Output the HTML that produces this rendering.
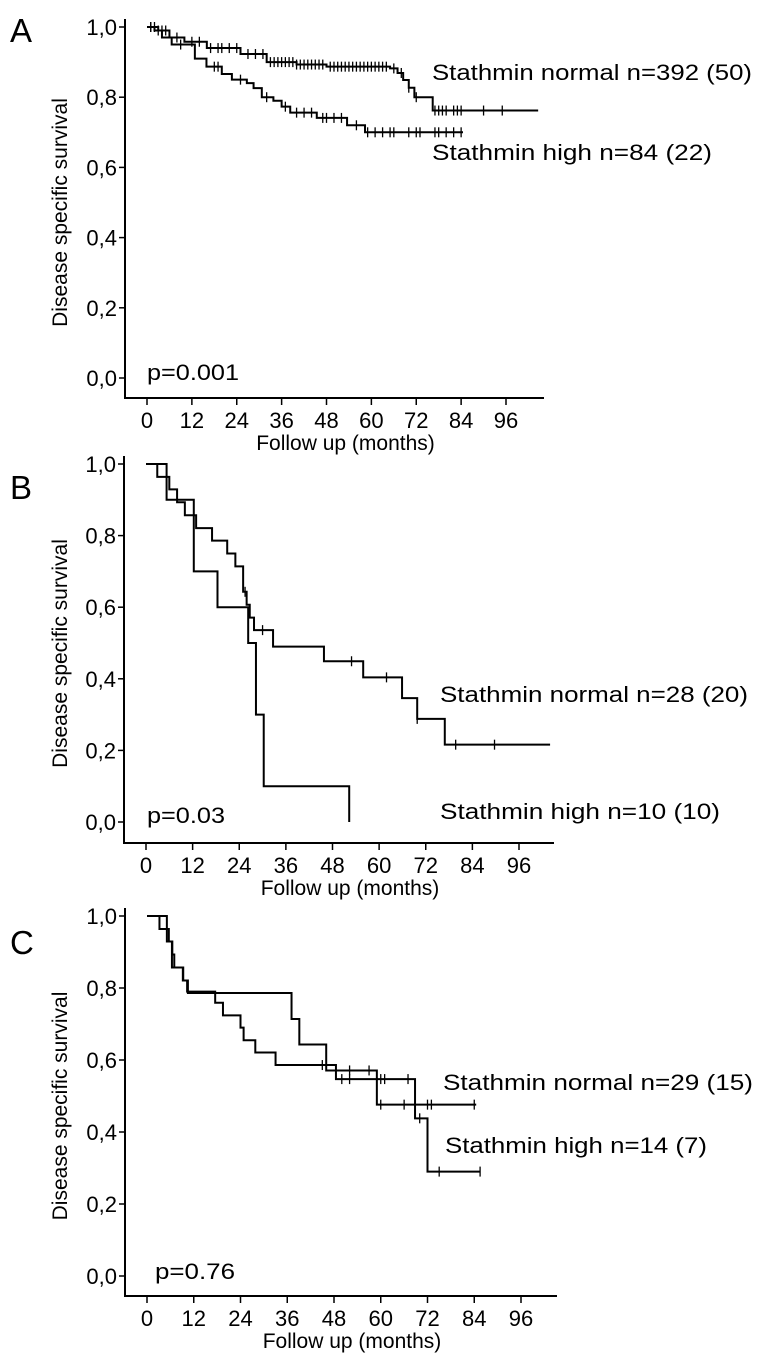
<!DOCTYPE html>
<html><head><meta charset="utf-8"><style>
html,body{margin:0;padding:0;background:#fff;}
svg{display:block;font-family:"Liberation Sans",Arial,sans-serif;}
</style></head><body>
<svg id="fig" width="761" height="1368" viewBox="0 0 761 1368" xmlns="http://www.w3.org/2000/svg"></svg>
<script>
// ---- Data ----
const xTicks = [0,12,24,36,48,60,72,84,96];
const yTicks = ["0,0","0,2","0,4","0,6","0,8","1,0"];
const yTickVals = [0,0.2,0.4,0.6,0.8,1.0];

// Panel A
const aNormalT = [0,3,6,10,16,25,32,40,48,65,67,68.5,70,71.5,76.4];
const aNormalS = [1,0.99,0.97,0.958,0.94,0.923,0.90,0.893,0.887,0.882,0.869,0.849,0.827,0.80,0.762];
const aNormalEnd = 104.6;
const aNormalCens = [1,2,4,5,8,12,14,17,19,20,22,24,27,29,31,33,34,35,36,37,38,39,40,41,42,43,44,45,46,47,49,50,51,52,53,54,55,56,57,58,59,60,61,62,63,64,66,68,70,72,77,78,79,80,82,83,84,90,95];
const aHighT = [0,2,4,6.6,12.8,15.9,20,22.7,26.7,28.5,30.7,33.8,36,38.3,45.4,53.5,58.3];
const aHighS = [1,0.99,0.97,0.95,0.91,0.887,0.866,0.85,0.84,0.826,0.80,0.79,0.773,0.756,0.741,0.72,0.70];
const aHighEnd = 84.5;
const aHighCens = [1,3,9,18,19,25,32,37,40,42,44,47,48,50,52,56,59,61,63,65,66,70,72,73,77,78,80,82,84];

// Panel B
const bNormalT = [0,2.9,6,8,10,12.9,17,20.9,23,25,25.9,26.7,27.8,32.7,45.8,55.9,65.9,69.8,76.9];
const bNormalS = [1,0.964,0.929,0.893,0.857,0.821,0.786,0.75,0.714,0.643,0.607,0.571,0.536,0.49,0.449,0.404,0.346,0.288,0.216];
const bNormalEnd = 104;
const bNormalCens = [25.5,30,52.9,61.9,69.8,79.7,89.7];
const bHighT = [0,5.3,12.3,18.4,26.3,28.3,30.3];
const bHighS = [1,0.9,0.7,0.6,0.5,0.3,0.1];
const bHighEnd = 52.3;
const bHighDropToZero = true;
const bHighCens = [];

// Panel C
const cHighT = [0,5.1,6.4,9.2,10.5,37.1,39.1,46,59];
const cHighS = [1,0.929,0.857,0.821,0.786,0.714,0.643,0.571,0.476];
const cHighEnd = 84.5;
const cHighCens = [52,57,60,66,72,73,84];
const cNormalT = [0,3.2,5.6,6.5,7,9.3,10.3,17.5,19.5,24,24.8,27.8,33,48.5,68.8,72];
const cNormalS = [1,0.964,0.929,0.893,0.857,0.821,0.79,0.759,0.724,0.69,0.655,0.621,0.586,0.547,0.438,0.29];
const cNormalEnd = 85.5;
const cNormalCens = [45,50,52,60,61,67,70,75,85.5];

const NS="http://www.w3.org/2000/svg";
const svg=document.getElementById('fig');
function mk(tag,attrs,parent){const e=document.createElementNS(NS,tag);for(const k in attrs)e.setAttribute(k,attrs[k]);(parent||svg).appendChild(e);return e;}

function panel(p){
  const g=mk('g',{});
  
  
  const X=m=>p.x0+(p.x96-p.x0)*m/96;
  const Y=v=>p.y0+(p.y1-p.y0)*v;
  const L=mk('text',{x:10,y:p.letterY,'font-size':33},g);L.textContent=p.id;
  
  
  const ya=mk('line',{x1:p.axX,y1:Y(1)-8,x2:p.axX,y2:p.axY,stroke:'#000','stroke-width':2},g);
  
  
  const xa=mk('line',{x1:p.axX-1,y1:p.axY,x2:p.axEnd,y2:p.axY,stroke:'#000','stroke-width':2},g);
  
  
  yTickVals.forEach((v,i)=>{
    mk('line',{x1:p.axX-6,y1:Y(v),x2:p.axX,y2:Y(v),stroke:'#000','stroke-width':1.5},g);
    const t=mk('text',{x:p.axX-8,y:Y(v)+8,'font-size':22,'text-anchor':'end'},g);t.textContent=yTicks[i];
    
    
  });
  xTicks.forEach(m=>{
    mk('line',{x1:X(m),y1:p.axY,x2:X(m),y2:p.axY+7,stroke:'#000','stroke-width':1.5},g);
    const t=mk('text',{x:X(m),y:p.axY+30,'font-size':22,'text-anchor':'middle'},g);t.textContent=m;
    
    
  });
  const xt=mk('text',{x:(p.x0+p.axEnd)/2,y:p.axY+52,'font-size':21,'text-anchor':'middle'},g);xt.textContent='Follow up (months)';
  
  
  const cy=(Y(1)+p.axY)/2;
  const yt=mk('text',{x:0,y:0,'font-size':21,'text-anchor':'middle',transform:`translate(67,${cy}) rotate(-90)`},g);yt.textContent='Disease specific survival';
  
  
  p.series.forEach(s=>{
    let d=`M${X(s.t[0])},${Y(s.s[0])}`;
    for(let i=1;i<s.t.length;i++){d+=`H${X(s.t[i])}V${Y(s.s[i])}`;}
    d+=`H${X(s.end)}`;
    if(s.zero)d+=`V${Y(0)}`;
    const pa=mk('path',{d:d,fill:'none',stroke:'#000','stroke-width':2},g);
    
    
    s.c.forEach(m=>{
      let v=s.s[0];for(let i=0;i<s.t.length;i++){if(s.t[i]<=m)v=s.s[i];}
      const c=mk('line',{x1:X(m),y1:Y(v)-5,x2:X(m),y2:Y(v)+5,stroke:'#000','stroke-width':1.3},g);
      
      
    });
  });
  p.labels.forEach(l=>{
    const t=mk('text',{x:l.x,y:l.y,'font-size':22,textLength:l.w,lengthAdjust:'spacingAndGlyphs'},g);t.textContent=l.text;
    
    
  });
}

panel({id:'A',letterY:42,x0:147,x96:506,y0:378,y1:27,axX:125,axY:398,axEnd:544,
  series:[{name:'curve-stathmin-normal',t:aNormalT,s:aNormalS,end:aNormalEnd,c:aNormalCens},
          {name:'curve-stathmin-high',t:aHighT,s:aHighS,end:aHighEnd,c:aHighCens}],
  labels:[{text:'Stathmin normal n=392 (50)',x:432,y:80,w:320,name:'legend-normal'},
          {text:'Stathmin high n=84 (22)',x:432,y:160,w:280,name:'legend-high'},
          {text:'p=0.001',x:147,y:380,w:92,name:'p-value'}]});
panel({id:'B',letterY:499,x0:146,x96:519,y0:822,y1:464,axX:124,axY:843,axEnd:554,
  series:[{name:'curve-stathmin-normal',t:bNormalT,s:bNormalS,end:bNormalEnd,c:bNormalCens},
          {name:'curve-stathmin-high',t:bHighT,s:bHighS,end:bHighEnd,c:bHighCens,zero:bHighDropToZero}],
  labels:[{text:'Stathmin normal n=28 (20)',x:440,y:702,w:308,name:'legend-normal'},
          {text:'Stathmin high n=10 (10)',x:440,y:819,w:280,name:'legend-high'},
          {text:'p=0.03',x:147,y:823,w:78,name:'p-value'}]});
panel({id:'C',letterY:954,x0:147,x96:521,y0:1276,y1:916,axX:125,axY:1296,axEnd:557,
  series:[{name:'curve-stathmin-high',t:cHighT,s:cHighS,end:cHighEnd,c:cHighCens},
          {name:'curve-stathmin-normal',t:cNormalT,s:cNormalS,end:cNormalEnd,c:cNormalCens}],
  labels:[{text:'Stathmin normal n=29 (15)',x:443,y:1090,w:310,name:'legend-normal'},
          {text:'Stathmin high n=14 (7)',x:445,y:1153,w:262,name:'legend-high'},
          {text:'p=0.76',x:155,y:1279,w:80,name:'p-value'}]});
</script>
</body></html>
